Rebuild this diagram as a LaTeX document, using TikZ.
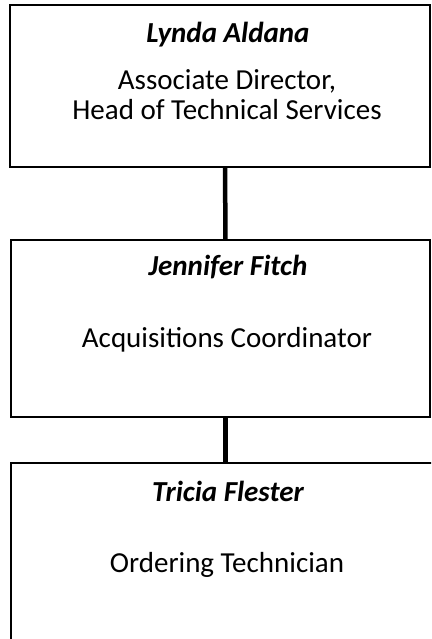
\documentclass[tikz,border=0pt]{standalone}
\usepackage{fontspec}
\setmainfont{Carlito}
\usetikzlibrary{positioning}

\begin{document}
\begin{tikzpicture}[
  x=1pt, y=-1pt,
  box/.style={
    draw, line width=1.8pt, inner sep=0pt, outer sep=0pt,
    anchor=north west,
  },
  who/.style={font=\fontsize{29}{30}\selectfont\bfseries\itshape,
    inner sep=0pt, anchor=base},
  role/.style={font=\fontsize{29}{30}\selectfont,
    inner sep=0pt, anchor=base, align=center},
  link/.style={line width=4.5pt},
]

% ── frame ────────────────────────────────────────────────
\useasboundingbox (0,0) rectangle (431,639);
\clip (0,0) rectangle (431,639);

% ── boxes ────────────────────────────────────────────────
\node[box, line width=2.3pt, minimum width=420pt, minimum height=162pt]
  (director) at (10,5) {};
\node[box, minimum width=419pt, minimum height=177pt]
  (coordinator) at (11,240) {};
\node[box, minimum width=440pt, minimum height=200pt]
  (technician) at (11,463) {};

% ── names and roles ──────────────────────────────────────
\node[who]  (lynda)    at (228,43)  {Lynda Aldana};
\node[role] (lyndarole) at (227,120) {Associate Director,\\Head of Technical Services};

\node[who]  (jennifer)     at (228,275) {Jennifer Fitch};
\node[role] (jenniferrole) at (227,347) {Acquisitions Coordinator};

\node[who]  (tricia)     at (228,501) {Tricia Flester};
\node[role] (triciarole) at (227,572) {Ordering Technician};

% ── links ────────────────────────────────────────────────
\draw[link] ([xshift=5pt]director.south) -- ([xshift=5pt]coordinator.north);
\draw[link] ([xshift=5pt]coordinator.south) -- ([xshift=5pt]coordinator.south |- technician.north);

\end{tikzpicture}
\end{document}
